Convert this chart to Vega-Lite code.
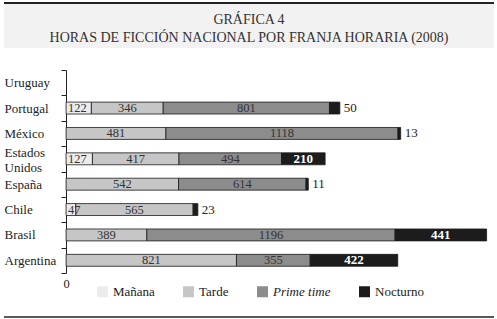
{
  "$schema": "https://vega.github.io/schema/vega-lite/v6.json",
  "padding": {"left": 3, "top": 2, "right": 0, "bottom": 0},
  "spacing": 16,
  "background": "white",
  "config": {"view": {"stroke": null}, "font": "Liberation Serif"},
  "datasets": {
    "horas": [
      {"pais": "Portugal", "franja": "Mañana", "orden": 1, "horas": 122},
      {"pais": "Portugal", "franja": "Tarde", "orden": 2, "horas": 346},
      {"pais": "Portugal", "franja": "Prime time", "orden": 3, "horas": 801},
      {"pais": "Portugal", "franja": "Nocturno", "orden": 4, "horas": 50},
      {"pais": "México", "franja": "Tarde", "orden": 2, "horas": 481},
      {"pais": "México", "franja": "Prime time", "orden": 3, "horas": 1118},
      {"pais": "México", "franja": "Nocturno", "orden": 4, "horas": 13},
      {"pais": "Estados Unidos", "franja": "Mañana", "orden": 1, "horas": 127},
      {"pais": "Estados Unidos", "franja": "Tarde", "orden": 2, "horas": 417},
      {"pais": "Estados Unidos", "franja": "Prime time", "orden": 3, "horas": 494},
      {"pais": "Estados Unidos", "franja": "Nocturno", "orden": 4, "horas": 210},
      {"pais": "España", "franja": "Tarde", "orden": 2, "horas": 542},
      {"pais": "España", "franja": "Prime time", "orden": 3, "horas": 614},
      {"pais": "España", "franja": "Nocturno", "orden": 4, "horas": 11},
      {"pais": "Chile", "franja": "Mañana", "orden": 1, "horas": 47},
      {"pais": "Chile", "franja": "Tarde", "orden": 2, "horas": 565},
      {"pais": "Chile", "franja": "Nocturno", "orden": 4, "horas": 23},
      {"pais": "Brasil", "franja": "Tarde", "orden": 2, "horas": 389},
      {"pais": "Brasil", "franja": "Prime time", "orden": 3, "horas": 1196},
      {"pais": "Brasil", "franja": "Nocturno", "orden": 4, "horas": 441},
      {"pais": "Argentina", "franja": "Tarde", "orden": 2, "horas": 821},
      {"pais": "Argentina", "franja": "Prime time", "orden": 3, "horas": 355},
      {"pais": "Argentina", "franja": "Nocturno", "orden": 4, "horas": 422}
    ],
    "titulo": [
      {"linea": 1, "texto": "GRÁFICA 4"},
      {"linea": 2, "texto": "HORAS DE FICCIÓN NACIONAL POR FRANJA HORARIA (2008)"}
    ]
  },
  "vconcat": [
    {
      "width": 490,
      "height": 45,
      "view": {"fill": "#f2f2f2", "stroke": null},
      "layer": [
        {
          "data": {"values": [{}]},
          "mark": {"type": "rule", "stroke": "#222222", "strokeWidth": 2},
          "encoding": {"y": {"datum": 0, "type": "quantitative", "scale": {"domain": [0, 2.6], "reverse": true}, "axis": null}}
        },
        {
          "data": {"name": "titulo"},
          "mark": {"type": "text", "fontSize": 14, "color": "#333333", "baseline": "middle", "font": "Liberation Serif"},
          "encoding": {
            "y": {"field": "linea", "type": "quantitative", "axis": null},
            "text": {"field": "texto"}
          }
        }
      ]
    },
    {
      "width": 488,
      "height": 203,
      "data": {"name": "horas"},
      "transform": [
        {"stack": "horas", "groupby": ["pais"], "sort": [{"field": "orden", "order": "ascending"}], "as": ["x0", "x1"]},
        {"calculate": "(datum.x0 + datum.x1) / 2", "as": "xm"}
      ],
      "encoding": {
        "y": {
          "field": "pais",
          "type": "nominal",
          "scale": {"domain": ["Uruguay", "Portugal", "México", "Estados Unidos", "España", "Chile", "Brasil", "Argentina"], "paddingInner": 0, "paddingOuter": 0},
          "axis": {
            "title": null,
            "grid": false,
            "offset": -62,
            "domainColor": "#222222",
            "tickColor": "#222222",
            "tickSize": 5,
            "tickBand": "extent",
            "labelAlign": "left",
            "labelBaseline": "middle",
            "labelPadding": 57,
            "labelFontSize": 13,
            "labelColor": "#222222",
            "labelFont": "Liberation Serif",
            "labelLineHeight": 15,
            "labelOffset": {"condition": {"test": "datum.value === 'Estados Unidos'", "value": -6}, "value": 0},
            "labelExpr": "datum.label == 'Estados Unidos' ? ['Estados', 'Unidos'] : datum.label"
          }
        }
      },
      "layer": [
        {
          "mark": {"type": "bar", "height": {"band": 0.47}, "stroke": "#1a1a1a", "strokeWidth": 0.8},
          "encoding": {
            "x": {
              "field": "x0",
              "type": "quantitative",
              "scale": {"domain": [-299, 2052], "nice": false, "zero": false},
              "axis": {"values": [0], "title": null, "domain": false, "ticks": false, "grid": false, "labelPadding": 4, "labelFontSize": 12.5, "labelColor": "#222222", "labelFont": "Liberation Serif", "minExtent": 27, "maxExtent": 27}
            },
            "x2": {"field": "x1"},
            "color": {
              "field": "franja",
              "type": "nominal",
              "scale": {"domain": ["Mañana", "Tarde", "Prime time", "Nocturno"], "range": ["#ececec", "#c6c6c6", "#8c8c8c", "#1c1c1c"]},
              "legend": {
                "title": null,
                "orient": "none",
                "direction": "horizontal",
                "legendX": 92,
                "legendY": 282,
                "symbolType": "square",
                "symbolSize": 121,
                "symbolStrokeWidth": 0,
                "labelOffset": 4,
                "columnPadding": 27,
                "labelFontSize": 13,
                "labelColor": "#222222",
                "labelFont": "Liberation Serif",
                "labelFontStyle": {"expr": "datum.value === 'Prime time' ? 'italic' : 'normal'"}
              }
            }
          }
        },
        {
          "transform": [{"filter": "datum.franja == 'Mañana'"}],
          "mark": {"type": "text", "fontSize": 12.5, "align": "left", "dx": 2, "color": "#333333", "font": "Liberation Serif"},
          "encoding": {
            "x": {"field": "x0", "type": "quantitative", "axis": null},
            "text": {"field": "horas"}
          }
        },
        {
          "transform": [{"filter": "datum.franja == 'Tarde' || datum.franja == 'Prime time'"}],
          "mark": {"type": "text", "fontSize": 12.5, "color": "#333333", "font": "Liberation Serif"},
          "encoding": {
            "x": {"field": "xm", "type": "quantitative", "axis": {"orient": "top", "labels": false, "ticks": false, "domain": false, "grid": false, "title": null, "minExtent": 6, "maxExtent": 6}},
            "text": {"field": "horas"}
          }
        },
        {
          "transform": [{"filter": "datum.franja == 'Nocturno' && datum.horas >= 100"}],
          "mark": {"type": "text", "fontSize": 13, "fontWeight": "bold", "color": "white", "font": "Liberation Serif"},
          "encoding": {
            "x": {"field": "xm", "type": "quantitative", "axis": null},
            "text": {"field": "horas"}
          }
        },
        {
          "transform": [{"filter": "datum.franja == 'Nocturno' && datum.horas < 100"}],
          "mark": {"type": "text", "fontSize": 13, "align": "left", "dx": 4, "color": "#222222", "font": "Liberation Serif"},
          "encoding": {
            "x": {"field": "x1", "type": "quantitative", "axis": null},
            "text": {"field": "horas"}
          }
        }
      ],
      "resolve": {"axis": {"x": "independent"}}
    },
    {
      "width": 490,
      "height": 1,
      "data": {"values": [{}]},
      "mark": {"type": "rule", "stroke": "#222222", "strokeWidth": 1.5},
      "encoding": {"y": {"datum": 0, "type": "quantitative", "scale": {"domain": [0, 1]}, "axis": null}}
    }
  ]
}
